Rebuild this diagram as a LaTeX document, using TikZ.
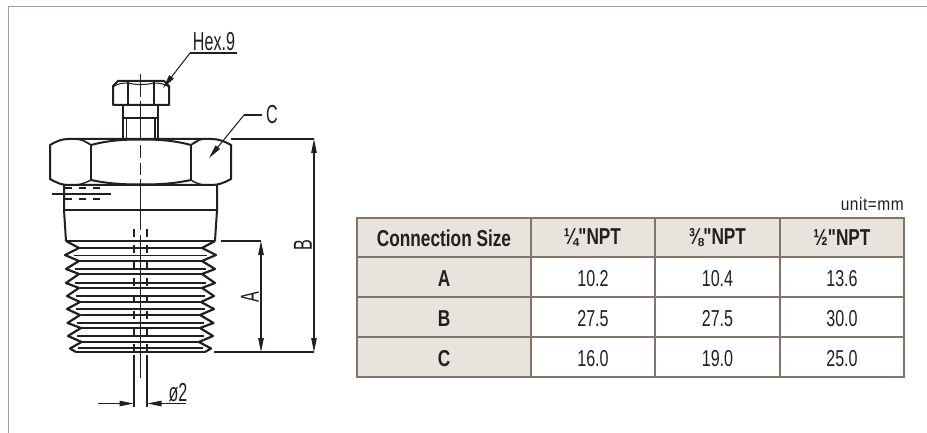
\documentclass[tikz,border=0pt]{standalone}
\usepackage{fontspec}
\setmainfont{Liberation Sans}
\newfontfamily\condf[FakeStretch=0.7,BoldFeatures={FakeStretch=0.75}]{Liberation Sans}
\newfontfamily\labf[FakeStretch=0.62]{Liberation Sans}
\newfontfamily\unitf[FakeStretch=0.86,LetterSpace=3]{Liberation Sans}
\usetikzlibrary{arrows.meta}
\definecolor{ink}{HTML}{231F20}
\definecolor{framec}{HTML}{A89A92}
\definecolor{tabline}{HTML}{85736A}
\definecolor{headfill}{HTML}{E8E3DD}
\tikzset{
  thickl/.style={draw=ink,line width=2pt,line join=round},
  medl/.style={draw=ink,line width=1.4pt},
  thinl/.style={draw=ink,line width=1.05pt},
  hidl/.style={draw=ink,line width=1.2pt,dash pattern=on 8pt off 8.5pt},
  tip/.style={-{Stealth[length=14pt,width=5.5pt,inset=0pt]}},
  tips/.style={{Stealth[length=14pt,width=5.5pt,inset=0pt]}-{Stealth[length=14pt,width=5.5pt,inset=0pt]}},
  lab/.style={text=ink,inner sep=0pt,font=\labf\fontsize{26}{26}\selectfont},
  cellv/.style={text=ink,inner sep=0pt,anchor=center,font=\condf\fontsize{23}{23}\selectfont},
  cellb/.style={text=ink,inner sep=0pt,anchor=center,font=\condf\bfseries\fontsize{23}{23}\selectfont},
}
\begin{document}
\begin{tikzpicture}[x=1pt,y=-1pt]
\useasboundingbox (0,0) rectangle (927,433);
\fill[white] (0,0) rectangle (927,433);
% frame
\draw[framec,line width=1.5pt] (927,6.5) -- (8.5,6.5) -- (8.5,433);

% --- small hexagon head
\draw[thickl] (113,105) -- (113,86) -- (118,81) -- (164,81) -- (169,86) -- (169,105) -- cycle;
\draw[thinl] (128,82) -- (128,105) (154,82) -- (154,105);
\draw[thinl] (113,87) .. controls (118,83) and (124,83) .. (128,83);
\draw[thinl] (128,83) .. controls (136,85) and (146,85) .. (154,83);
\draw[thinl] (154,83) .. controls (160,83) and (165,84) .. (169,87);
% stem
\draw[thickl] (123,105) -- (123,139) (158,105) -- (158,139);
\draw[medl] (123,118) -- (158,118);
\draw[medl] (126.5,118) -- (126.5,139) (155,118) -- (155,139);

% --- big nut
\draw[thickl] (68,139) -- (212,139)
  .. controls (218,139) and (224,141) .. (231,145) -- (231,179)
  .. controls (224,183) and (218,185) .. (212,185) -- (68,185)
  .. controls (62,185) and (57,183) .. (50,179) -- (50,145)
  .. controls (57,141) and (62,139) .. (68,139) -- cycle;
\draw[medl] (91,145) -- (91,180) (191,145) -- (191,180);
\draw[medl] (76,139) .. controls (83,140) and (87,142) .. (91,145);
\draw[medl] (76,185) .. controls (83,184) and (87,182) .. (91,180);
\draw[medl] (204,139) .. controls (198,140) and (194,142) .. (191,145);
\draw[medl] (204,185) .. controls (198,184) and (194,182) .. (191,180);
\draw[thickl] (91,145) .. controls (110,140) and (125,139.5) .. (141,139.5) .. controls (157,139.5) and (172,140) .. (191,145);
\draw[thickl] (91,180) .. controls (110,184) and (125,184.5) .. (141,184.5) .. controls (157,184.5) and (172,184) .. (191,180);
\draw[medl] (84,141) -- (91,145) (198,141) -- (191,145);

% --- body
\draw[thickl] (64,185) -- (64,210) -- (66,241);
\draw[thickl] (217,185) -- (217,210) -- (215,241);
\draw[thickl] (64,210) -- (217,210);
\draw[thickl] (66,241) -- (215,241);
% hatch marks on body
\draw[thinl,dash pattern=on 7pt off 7pt] (65,188) -- (105,188) (65,199) -- (105,199);
\draw[thinl] (52,194) -- (111,194);

% --- thread zigzag
\draw[thickl,line width=2.2pt] (66,241) -- (79,248) -- (65,255) -- (79,261) -- (66,269) -- (79,274) -- (66,283) -- (79,288)
  -- (67,296) -- (80,302) -- (67,309) -- (80,315) -- (67.5,323) -- (81,328) -- (68,336) -- (81.5,342) -- (70,348.5) -- (76,352);
\draw[thickl,line width=2.2pt] (215,241) -- (202,248) -- (216,255) -- (202,261) -- (215,269) -- (202,274) -- (215,283) -- (202,288)
  -- (214,296) -- (201,302) -- (214,309) -- (200,315) -- (213.5,323) -- (200,328) -- (213,336) -- (199,342) -- (211,348.5) -- (205,352);
% thread lines
\foreach \ya/\xa/\xb in {248/79/202,261/79/202,274/79/202,288/80/202,302/80/201,315/81/200,328/81/200,342/82/199}{
  \draw[medl] (\xa,\ya) -- (\xb,\ya);
}
\foreach \ya/\xa/\xb in {255.5/74/207,269/75/206,283/75/206,296/76/205,309/76/205,323/77/204,336/77/204,348/78/203}{
  \draw[medl,line width=1.7pt] (\xa,\ya) -- (\xb,\ya);
}
\draw[thickl,line width=2.4pt] (76,352) -- (205,352);

% --- centre line and bore
\draw[thickl,line width=1.4pt] (140.5,74) -- (140.5,97) (140.5,101) -- (140.5,138)
  (140.5,145) -- (140.5,158) (140.5,163) -- (140.5,175) (140.5,179) -- (140.5,223) (140.5,221) -- (140.5,230) (140.5,235) -- (140.5,378);
\draw[hidl] (134,228.5) -- (134,354);
\draw[hidl] (147,228.5) -- (147,354);
\draw[thinl] (134,355) -- (134,407) (147,355) -- (147,407);

% --- named dimension points
\coordinate (tA) at (261,241);
\coordinate (bA) at (261,352);
\coordinate (tB) at (314,139);
\coordinate (bB) at (314,352);
\coordinate (extAs) at (221,241);
\coordinate (extBs) at (231,139);
\coordinate (extCs) at (214,352);
\draw[thinl] (extAs) -- (tA);
\draw[thinl] (extBs) -- (tB);
\draw[thinl] (extCs) -- (bB);
\draw[thinl,tips] (tA) -- (bA);
\draw[thinl,tips] (tB) -- (bB);
\node[lab,rotate=90] (labA) at (250,297) {A};
\node[lab,rotate=90] (labB) at (303,245) {B};

% --- diameter
\coordinate (d1s) at (98,403.5);
\coordinate (d1e) at (133.5,403.5);
\coordinate (d2s) at (186,403.5);
\coordinate (d2e) at (147.5,403.5);
\draw[thinl,tip] (d1s) -- (d1e);
\draw[thinl,tip] (d2s) -- (d2e);
\node[lab] (lphi) at (178,393) {ø2};

% --- leaders
\coordinate (hexkn) at (190,53);
\coordinate (hexend) at (237,53);
\coordinate (hextip) at (163,88);
\draw[thinl] (hexend) -- (hexkn);
\draw[thinl,tip] (hexkn) -- (hextip);
\node[lab,anchor=south] (lhex) at (214,51) {Hex.9};
\coordinate (ckn) at (244,115);
\coordinate (cend) at (262,115);
\coordinate (ctip) at (209,158);
\draw[thinl] (cend) -- (ckn);
\draw[thinl,tip] (ckn) -- (ctip);
\node[lab] (lc) at (272,115) {C};

% --- table
\fill[headfill] (357,218) rectangle (531,377);
\fill[headfill] (531,218) rectangle (904,257);
\draw[tabline,line width=1.7pt] (357,218) rectangle (904,377);
\foreach \yy in {257,297,337}{\draw[tabline,line width=1.7pt] (357,\yy) -- (904,\yy);}
\foreach \xx in {531,655,780}{\draw[tabline,line width=1.7pt] (\xx,218) -- (\xx,377);}
\node[cellb] (h0) at (444,238) {Connection Size};
\node[cellb] (h1) at (592.5,238) {¼"NPT};
\node[cellb] (h2) at (717.5,238) {⅜"NPT};
\node[cellb] (h3) at (842,238) {½"NPT};
\node[cellb] (ra) at (444,279) {A};
\node[cellb] (rb) at (444,319) {B};
\node[cellb] (rc) at (444,359) {C};
\node[cellv] (a1) at (593,279) {10.2};
\node[cellv] (a2) at (717.5,279) {10.4};
\node[cellv] (a3) at (842,279) {13.6};
\node[cellv] (b1) at (593,319) {27.5};
\node[cellv] (b2) at (717.5,319) {27.5};
\node[cellv] (b3) at (842,319) {30.0};
\node[cellv] (c1) at (593,359) {16.0};
\node[cellv] (c2) at (717.5,359) {19.0};
\node[cellv] (c3) at (842,359) {25.0};
\node[text=ink,inner sep=0pt,anchor=east,font=\unitf\fontsize{18}{18}\selectfont] (unit) at (904,204) {unit=mm};
\end{tikzpicture}
\end{document}
